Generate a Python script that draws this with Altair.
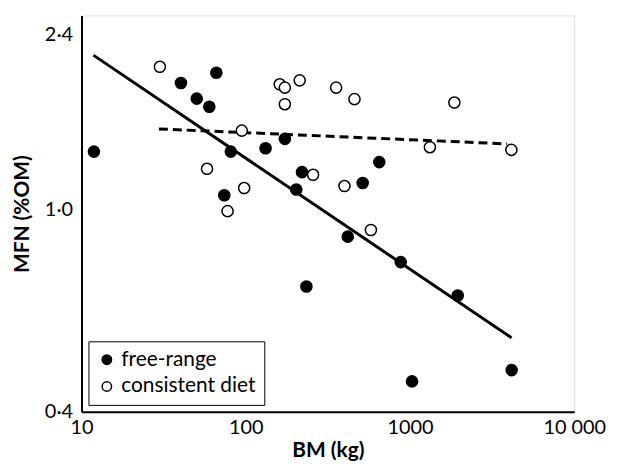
import altair as alt
import pandas as pd

# free-range points (BM kg, MFN %OM)
free_bm = [40.3, 66.2, 50.3, 60.0, 11.9, 81.1, 74.0, 173, 132, 650, 220, 515, 203, 418, 878, 234, 1953, 1029, 4159]
free_mfn = [1.769, 1.853, 1.648, 1.588, 1.297, 1.297, 1.065, 1.374, 1.317, 1.237, 1.182, 1.125, 1.093, 0.883, 0.787, 0.705, 0.677, 0.459, 0.483]

# consistent diet points
cons_bm = [30.0, 94.6, 58.1, 97.8, 77.5, 161, 173, 213, 173, 355, 459, 257, 399, 1862, 1322, 4142, 578]
cons_mfn = [1.903, 1.426, 1.200, 1.100, 0.991, 1.758, 1.732, 1.790, 1.607, 1.732, 1.644, 1.168, 1.110, 1.619, 1.323, 1.307, 0.910]

# regression lines (endpoints)
free_line_bm = [11.8, 4150]
free_line_mfn = [2.006, 0.559]
cons_line_bm = [29.6, 3900]
cons_line_mfn = [1.437, 1.343]

groups = ["free-range", "consistent diet"]
x_ticks = [10, 100, 1000, 10000]
y_ticks = [0.4, 1.0, 2.4]

FONT = "Lato"

pts = pd.DataFrame({
    "BM": free_bm + cons_bm,
    "MFN": free_mfn + cons_mfn,
    "group": [groups[0]] * len(free_bm) + [groups[1]] * len(cons_bm),
})
fl = pd.DataFrame({"BM": free_line_bm, "MFN": free_line_mfn})
cl = pd.DataFrame({"BM": cons_line_bm, "MFN": cons_line_mfn})

xscale = alt.Scale(type="log", domain=[10, 10000], nice=False)
yscale = alt.Scale(type="log", domain=[0.4, 2.4], nice=False)

xaxis = alt.Axis(
    title="BM (kg)", values=x_ticks,
    labelExpr="datum.value == 10000 ? '10\u202f000' : format(datum.value, 'd')",
    ticks=False, grid=False, domainColor="black", domainWidth=2,
    labelFont=FONT, labelFontSize=20, labelColor="black", labelPadding=6,
    titleFont=FONT, titleFontSize=21, titleFontWeight="bold", titleColor="black",
    titlePadding=2, labelFlush=False, labelOverlap=False,
)
yaxis = alt.Axis(
    title="MFN (%OM)", values=y_ticks,
    labelExpr="replace(format(datum.value, '.1f'), '.', '·')",
    labelOffset={"condition": {"test": "datum.value > 2", "value": 19}, "value": 0},
    ticks=False, grid=False, domainColor="black", domainWidth=2,
    labelFont=FONT, labelFontSize=20, labelColor="black", labelPadding=9,
    titleFont=FONT, titleFontSize=21, titleFontWeight="bold", titleColor="black",
    titlePadding=12, labelFlush=False, labelOverlap=False,
)

points = alt.Chart(pts).mark_point(filled=True, stroke="black", strokeWidth=1.5, size=125, opacity=1).encode(
    x=alt.X("BM:Q", scale=xscale, axis=xaxis),
    y=alt.Y("MFN:Q", scale=yscale, axis=yaxis),
    fill=alt.Fill("group:N", scale=alt.Scale(domain=groups, range=["black", "white"]),
                  legend=alt.Legend(title=None, orient="bottom-left", offset=7,
                                    strokeColor="black", fillColor="white", padding=8,
                                    labelFont=FONT, labelFontSize=21, labelColor="black",
                                    symbolType="circle", symbolSize=90,
                                    symbolStrokeColor="black", symbolStrokeWidth=1.5,
                                    rowPadding=5, labelOffset=4)),
)

solid = alt.Chart(fl).mark_line(color="black", strokeWidth=3).encode(
    x=alt.X("BM:Q", scale=xscale), y=alt.Y("MFN:Q", scale=yscale))
dashed = alt.Chart(cl).mark_line(color="black", strokeWidth=3, strokeDash=[9, 5]).encode(
    x=alt.X("BM:Q", scale=xscale), y=alt.Y("MFN:Q", scale=yscale))

chart = alt.layer(solid, dashed, points).properties(
    width=496, height=399,
    autosize=alt.AutoSizeParams(type="none"),
    padding={"left": 74, "top": 6, "right": 38, "bottom": 51},
).configure_view(stroke=None).configure_legend(strokeWidth=1.5).configure(background="white")

chart.save("out.html", embed_options={"renderer": "svg", "actions": False})
